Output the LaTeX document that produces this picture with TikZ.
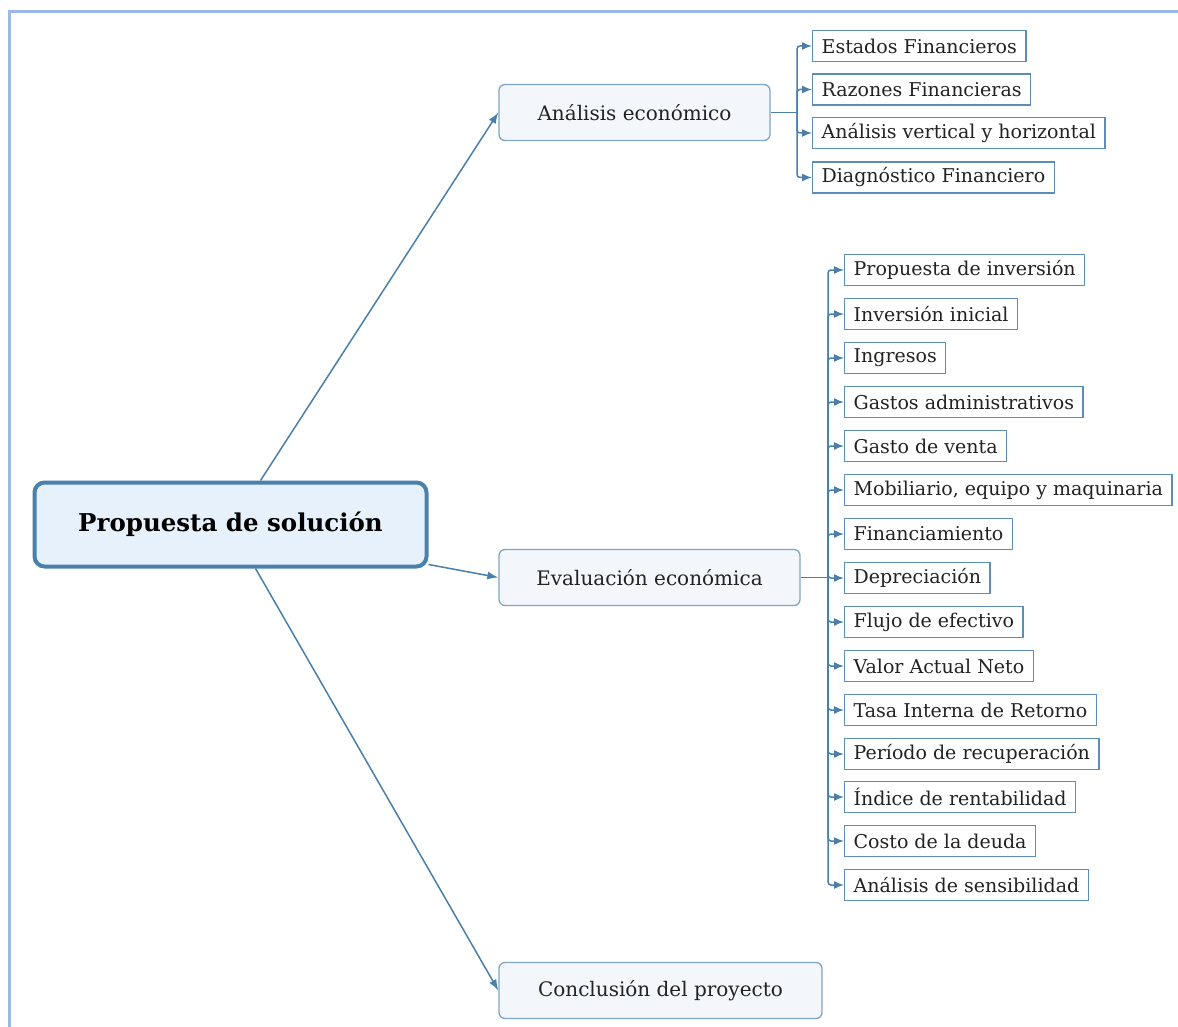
\documentclass[tikz,border=0pt]{standalone}
\usepackage{fontspec}
\setmainfont{DejaVu Serif}
\usetikzlibrary{arrows.meta}
\definecolor{framecol}{HTML}{9DB8E4}
\definecolor{linecol}{HTML}{4A7FAA}
\definecolor{rootfill}{HTML}{E7F1FB}
\definecolor{rootdraw}{HTML}{4A80AE}
\definecolor{lvfill}{HTML}{F3F7FC}
\definecolor{lvdraw}{HTML}{7FA5C6}
\definecolor{chdraw}{HTML}{5B8DB8}
\definecolor{txt}{HTML}{222222}
\tikzset{
  rootbox/.style={draw=rootdraw, fill=rootfill, line width=4pt, rounded corners=10pt,
    minimum width=392pt, minimum height=84pt, text=black, font=\fontsize{24.5}{28}\selectfont\bfseries},
  lvbox/.style={draw=lvdraw, fill=lvfill, line width=1.3pt, rounded corners=6pt,
    minimum height=56pt, text=txt, font=\fontsize{20}{23}\selectfont},
  chbox/.style={draw=chdraw, fill=white, line width=1.3pt, anchor=west,
    minimum height=31pt, inner xsep=9pt, inner ysep=2pt, text=txt, font=\fontsize{19}{22}\selectfont},
  conn/.style={draw=linecol, line width=1.5pt, -{Latex[length=11pt,width=8pt]}},
  branch/.style={draw=linecol, line width=1.5pt, rounded corners=3pt, -{Latex[length=10pt,width=8pt]}},
  trunk/.style={draw=linecol, line width=1.5pt}
}
\begin{document}
\begin{tikzpicture}[x=1pt,y=-1pt]
\useasboundingbox (0,0) rectangle (1178,1027);
\draw[framecol, line width=3pt] (1180,12) -- (9,12) -- (9,1030);

\node[rootbox] (root) at (230.5,524.5) {Propuesta de solución};

\node[lvbox, minimum width=271pt] (ana) at (634.5,112.5) {Análisis económico};
\node[lvbox, minimum width=301pt] (eva) at (649.5,577.5) {Evaluación económica};
\node[lvbox, minimum width=323pt] (con) at (660.5,990.5) {Conclusión del proyecto};

\draw[conn] ([xshift=30pt]root.north) -- (ana.west);
\draw[conn] ([yshift=-40pt]root.east) -- (eva.west);
\draw[conn] ([xshift=25pt]root.south) -- (con.west);

% Analisis children
\coordinate (at) at (797,112.5);
\node[chbox] (a1) at (812,46) {Estados Financieros};
\node[chbox] (a2) at (812,89.5) {Razones Financieras};
\node[chbox] (a3) at (812,133) {Análisis vertical y horizontal};
\node[chbox] (a4) at (812,177.5) {Diagnóstico Financiero};
\draw[trunk] (ana.east) -- (at);
\foreach \n in {a1,a2,a3,a4} \draw[branch] (at) |- (\n.west);

% Evaluacion children
\coordinate (et) at (828,577.5);
\node[chbox] (e1) at (844,270) {Propuesta de inversión};
\node[chbox] (e2) at (844,314) {Inversión inicial};
\node[chbox] (e3) at (844,358) {Ingresos};
\node[chbox] (e4) at (844,402) {Gastos administrativos};
\node[chbox] (e5) at (844,446) {Gasto de venta};
\node[chbox] (e6) at (844,490) {Mobiliario, equipo y maquinaria};
\node[chbox] (e7) at (844,534) {Financiamiento};
\node[chbox] (e8) at (844,578) {Depreciación};
\node[chbox] (e9) at (844,622) {Flujo de efectivo};
\node[chbox] (e10) at (844,666) {Valor Actual Neto};
\node[chbox] (e11) at (844,710) {Tasa Interna de Retorno};
\node[chbox] (e12) at (844,754) {Período de recuperación};
\node[chbox] (e13) at (844,797) {Índice de rentabilidad};
\node[chbox] (e14) at (844,841) {Costo de la deuda};
\node[chbox] (e15) at (844,885) {Análisis de sensibilidad};
\draw[trunk] (eva.east) -- (et);
\foreach \n in {e1,e2,e3,e4,e5,e6,e7,e8,e9,e10,e11,e12,e13,e14,e15} \draw[branch] (et) |- (\n.west);
\end{tikzpicture}
\end{document}
